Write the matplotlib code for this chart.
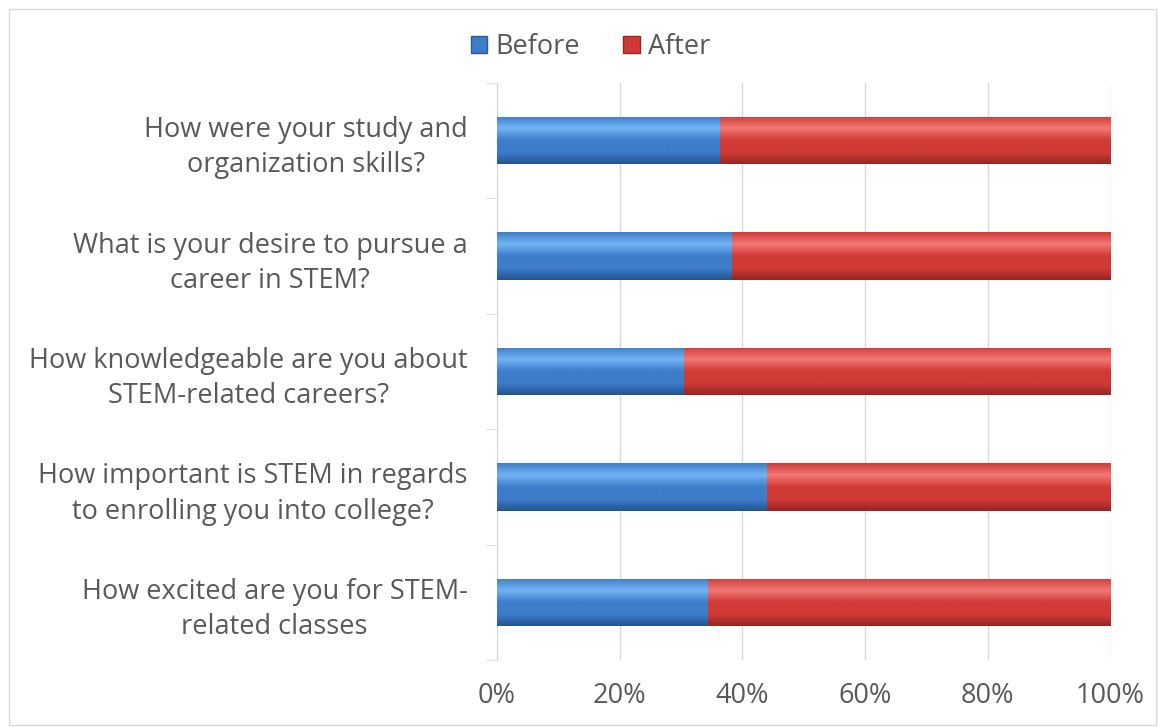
import numpy as np
import matplotlib.pyplot as plt
from matplotlib.patches import Rectangle
from matplotlib.ticker import PercentFormatter

questions = [
    "How were your study and\norganization skills?",
    "What is your desire to pursue a\ncareer in STEM?",
    "How knowledgeable are you about\nSTEM-related careers?",
    "How important is STEM in regards\nto enrolling you into college?",
    "How excited are you for STEM-\nrelated classes",
]
before = [36.3, 38.3, 30.5, 44.0, 34.4]
after = [100 - b for b in before]

plt.rcParams['font.family'] = ['Open Sans', 'DejaVu Sans']
txt = '#595959'

fig = plt.figure(figsize=(11.58, 7.27), dpi=100)
ax = fig.add_axes([0.429, 0.092, 0.53, 0.794])

y = np.arange(len(questions))[::-1]
h = 0.41


def shade(bars, top, mid, bot):
    # vertical gradient inside every bar, like the Excel bevel look
    cmap = plt.matplotlib.colors.LinearSegmentedColormap.from_list(
        'g', [bot, mid, mid, top, mid], N=256)
    grad = np.linspace(0, 1, 256).reshape(-1, 1)
    for b in bars:
        x0, y0 = b.get_x(), b.get_y()
        im = ax.imshow(grad, cmap=cmap, aspect='auto', origin='lower',
                       extent=[x0, x0 + b.get_width(), y0, y0 + b.get_height()],
                       zorder=3)
        im.set_clip_path(b)


b1 = ax.barh(y, before, height=h, color='#3d7cc9', zorder=2)
b2 = ax.barh(y, after, left=before, height=h, color='#d03a36', zorder=2)
shade(b1, '#72b4f2', '#3e7dca', '#24548f')
shade(b2, '#f27876', '#d13b37', '#952522')

ax.set_xlim(0, 100)
ax.set_ylim(-0.5, len(questions) - 0.5)
ax.set_xticks(np.arange(0, 101, 20))
ax.xaxis.set_major_formatter(PercentFormatter(decimals=0))
ax.set_yticks(y)
ax.set_yticklabels(questions)
for lbl in ax.get_yticklabels():
    lbl.set_multialignment('center')
    lbl.set_linespacing(1.35)
ax.set_yticks(np.arange(-0.5, len(questions), 1), minor=True)

ax.grid(axis='x', color='#d9d9d9', lw=1, zorder=0)
for s in ['top', 'right', 'bottom']:
    ax.spines[s].set_visible(False)
ax.spines['left'].set_color('#d9d9d9')
ax.tick_params(axis='y', which='major', length=0, labelsize=19.5, labelcolor=txt, pad=21)
ax.tick_params(axis='y', which='minor', length=8, color='#d9d9d9')
ax.tick_params(axis='x', length=0, labelsize=19.5, labelcolor=txt, pad=16)

hb = Rectangle((0, 0), 1, 1, facecolor='#3d7cc9', edgecolor='#2a5a9a')
ha = Rectangle((0, 0), 1, 1, facecolor='#d03a36', edgecolor='#952522')
fig.legend([hb, ha], ['Before', 'After'], loc='center', bbox_to_anchor=(0.51, 0.935),
           ncol=2, frameon=False, fontsize=19.5, labelcolor=txt,
           handlelength=0.6, handleheight=0.6, handletextpad=0.3, columnspacing=1.6)

fig.patches.append(Rectangle((0.008, 0.003), 0.99, 0.985, transform=fig.transFigure,
                             fill=False, edgecolor='#d9d9d9', lw=1))

fig.savefig('out.png', dpi=100)
